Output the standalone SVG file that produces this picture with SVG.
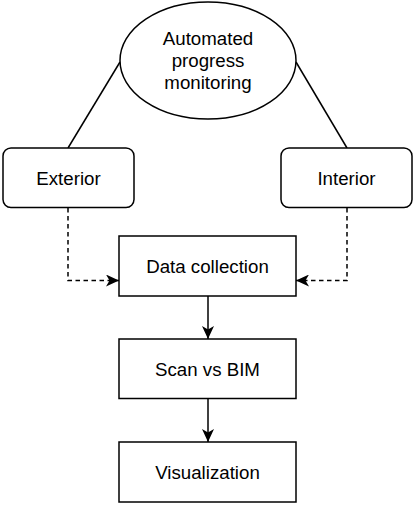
<svg xmlns="http://www.w3.org/2000/svg" width="415" height="507" viewBox="0 0 415 507">
<style>
.shape{fill:#fff;stroke:#000;stroke-width:1.5}
.lbl{font-family:"Liberation Sans",Arial,sans-serif;font-size:18.7px;fill:#000;text-anchor:middle}
.edge{fill:none;stroke:#000;stroke-width:1.5}
.dash{stroke-dasharray:4.5 3.5}
</style>
<defs>
<marker id="arr" viewBox="0 0 13 12" refX="13" refY="6" markerWidth="13" markerHeight="12" markerUnits="userSpaceOnUse" orient="auto">
<path d="M0,0 L13,6 L0,12 L3.5,6 Z" fill="#000"/>
</marker>
</defs>
<g id="connectors">
<line class="edge" x1="120" y1="62" x2="68" y2="148"/>
<line class="edge" x1="296" y1="62" x2="347" y2="148"/>
<path class="edge dash" d="M68,208 V280.5 H119" marker-end="url(#arr)"/>
<path class="edge dash" d="M347,208 V280.5 H296" marker-end="url(#arr)"/>
<line class="edge" x1="208" y1="296" x2="208" y2="339" marker-end="url(#arr)"/>
<line class="edge" x1="208" y1="398" x2="208" y2="442" marker-end="url(#arr)"/>
</g>
<g id="apm">
<ellipse class="shape" cx="208" cy="60.5" rx="88" ry="58.5"/>
<text class="lbl" x="208" y="44.5">Automated</text>
<text class="lbl" x="208" y="67">progress</text>
<text class="lbl" x="208" y="89">monitoring</text>
</g>
<g id="exterior">
<rect class="shape" x="3" y="148" width="131" height="59.5" rx="8"/>
<text class="lbl" x="68.5" y="185">Exterior</text>
</g>
<g id="interior">
<rect class="shape" x="281" y="148" width="131" height="59.5" rx="8"/>
<text class="lbl" x="346.5" y="185">Interior</text>
</g>
<g id="data-collection">
<rect class="shape" x="119" y="236" width="177" height="60"/>
<text class="lbl" x="207.5" y="272.7">Data collection</text>
</g>
<g id="scan-vs-bim">
<rect class="shape" x="119" y="339" width="177" height="59.5"/>
<text class="lbl" x="207.5" y="375.7">Scan vs BIM</text>
</g>
<g id="visualization">
<rect class="shape" x="119" y="442" width="177" height="60"/>
<text class="lbl" x="207.5" y="478.5">Visualization</text>
</g>
</svg>
